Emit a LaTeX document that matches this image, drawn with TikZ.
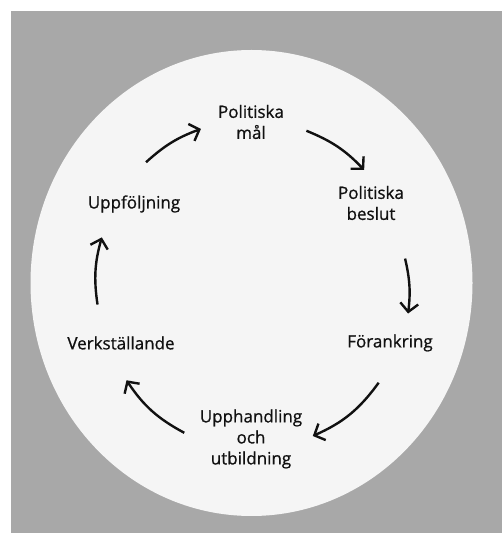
\documentclass[tikz,border=0pt]{standalone}
\usepackage{fontspec}
\setmainfont{Open Sans}
\newfontfamily\stagefont{Open Sans}[RawFeature={embolden=0.8}]
\usetikzlibrary{arrows.meta,calc}
\definecolor{panelgrey}{HTML}{A8A8A8}
\definecolor{discwhite}{HTML}{F5F5F5}
\definecolor{ink}{HTML}{111111}
\begin{document}
\begin{tikzpicture}[x=1pt,y=1pt,
  stage/.style={inner sep=0pt, align=center, text=ink,
    font=\stagefont\fontsize{17}{21}\selectfont},
  cyclearrow/.style={draw=ink, line width=2.4pt,
    -{Straight Barb[length=8.5pt,width=18pt]}}]
  % page and grey panel
  \useasboundingbox (0,0) rectangle (502,533);
  \fill[white] (0,0) rectangle (502,533);
  \fill[panelgrey] (11,0) rectangle (502,522);
  % light disc
  \fill[discwhite] (251.5,250) ellipse [x radius=221, y radius=233];

  % stages of the cycle
  \node[stage] (polmal) at (251,411) {Politiska\\mål};
  \node[stage] (polbes) at (371,330) {Politiska\\beslut};
  \node[stage] (forank) at (390,190) {Förankring};
  \node[stage] (upph)   at (251,94)  {Upphandling\\och\\utbildning};
  \node[stage] (verk)   at (121,190) {Verkställande};
  \node[stage] (uppf)   at (134,329) {Uppföljning};

  % arrow end points on a ring around the disc centre
  \coordinate (c) at (251,250);
  \coordinate (a1s) at ($(c)+(131:160)$);
  \coordinate (a1e) at ($(c)+(108:162)$);
  \coordinate (a2s) at ($(c)+(70:162)$);
  \coordinate (a2e) at ($(c)+(45:160)$);
  \coordinate (a3s) at ($(c)+(9:156)$);
  \coordinate (a3e) at ($(c)+(-11:160)$);
  \coordinate (a4s) at ($(c)+(-38:162)$);
  \coordinate (a4e) at ($(c)+(-68:165)$);
  \coordinate (a5s) at ($(c)+(-114:164)$);
  \coordinate (a5e) at ($(c)+(-142:158)$);
  \coordinate (a6s) at ($(c)+(-172:155)$);
  \coordinate (a6e) at ($(c)+(163:156)$);

  % clockwise arrows
  \draw[cyclearrow] (a1s) to[bend left=11] (a1e);
  \draw[cyclearrow] (a2s) to[bend left=12] (a2e);
  \draw[cyclearrow] (a3s) to[bend left=10] (a3e);
  \draw[cyclearrow] (a4s) to[bend left=15] (a4e);
  \draw[cyclearrow] (a5s) to[bend left=14] (a5e);
  \draw[cyclearrow] (a6s) to[bend left=12] (a6e);
\end{tikzpicture}
\end{document}
